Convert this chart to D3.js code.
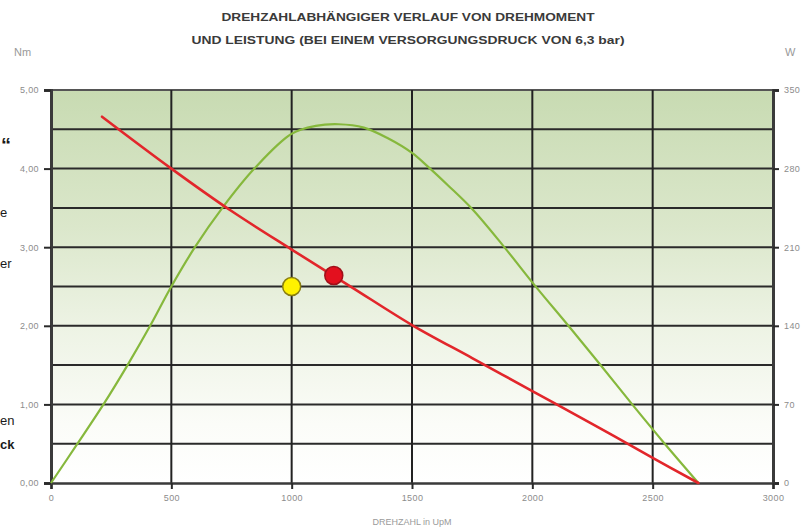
<!DOCTYPE html>
<html><head><meta charset="utf-8">
<script src="https://cdn.jsdelivr.net/npm/d3@7"></script>
<style>body{margin:0;background:#fff}svg{display:block}</style>
</head><body><svg id="c" width="805" height="530"></svg>
<script>
const titleLines = ["DREHZAHLABHÄNGIGER VERLAUF VON DREHMOMENT", "UND LEISTUNG (BEI EINEM VERSORGUNGSDRUCK VON 6,3 bar)"];
const rpmTicks = [0, 500, 1000, 1500, 2000, 2500, 3000];
const torqueTicks = [0, 1, 2, 3, 4, 5];
const torqueGrid = [0.5, 1, 1.5, 2, 2.5, 3, 3.5, 4, 4.5, 5];
const powerTicks = [0, 70, 140, 210, 280, 350];
const torqueRpm = [212, 500, 750, 1000, 1250, 1500, 1750, 2000, 2250, 2500, 2690];
const torqueNm  = [4.66, 4.0, 3.46, 2.97, 2.49, 2.01, 1.59, 1.17, 0.75, 0.32, 0];
const powerRpm = [0, 110, 218, 318, 412, 500, 598, 712, 845, 1000, 1100, 1195, 1300, 1400, 1500, 1565, 1650, 1750, 1880, 2010, 2150, 2280, 2415, 2550, 2690];
const powerW   = [0, 35, 70, 105, 140, 175, 210, 245, 280, 311, 318, 319.5, 316.5, 307, 294, 282, 265, 244, 211, 176, 140, 106, 70, 35, 0];
const markerRpm = [1000, 1175];
const markerNm = [2.5, 2.64];
const markerFill = ["#fff200", "#e3101e"];
const markerStroke = ["#8a7f10", "#a0101a"];
const sideFragments = [
  {text: "“", x: 1, y: 152, size: 20, bold: true},
  {text: "e", x: 0, y: 217, size: 13, bold: false},
  {text: "er", x: 0, y: 268, size: 13, bold: false},
  {text: "en", x: 0, y: 425, size: 13, bold: false},
  {text: "ck", x: 0, y: 449, size: 13, bold: true}
];

const svg = d3.select("#c");
const x = d3.scaleLinear([0, 3000], [51, 773]);
const yL = d3.scaleLinear([0, 5], [483, 90]);
const yR = d3.scaleLinear([0, 350], [483, 90]);
const font = "'Liberation Sans', Arial, sans-serif";

const defs = svg.append("defs");
const g = defs.append("linearGradient").attr("id", "bg").attr("x1", 0).attr("y1", 0).attr("x2", 0).attr("y2", 1);
[[0, "#c8dbb2"], [0.35, "#dbe7cb"], [0.6, "#edf3e4"], [0.85, "#fbfcf8"], [1, "#ffffff"]].forEach(s =>
  g.append("stop").attr("offset", s[0]).attr("stop-color", s[1]));

// plot background
svg.append("rect").attr("x", x(0)).attr("y", yL(5)).attr("width", x(3000) - x(0)).attr("height", yL(0) - yL(5)).attr("fill", "url(#bg)");

// horizontal grid
svg.append("g").selectAll("line").data(torqueGrid).join("line")
  .attr("x1", x(0)).attr("x2", x(3000)).attr("y1", d => yL(d)).attr("y2", d => yL(d))
  .attr("stroke", d => d === 5 ? "#555" : "#2a2a2a").attr("stroke-width", 2);
// vertical grid
svg.append("g").selectAll("line").data(rpmTicks.filter(d => d > 0 && d < 3000)).join("line")
  .attr("x1", d => x(d)).attr("x2", d => x(d)).attr("y1", yL(5)).attr("y2", yL(0))
  .attr("stroke", "#222").attr("stroke-width", 2);

// axes
const axL = d3.axisLeft(yL).tickValues(torqueTicks).tickSize(7).tickPadding(5)
  .tickFormat(d => d3.format(".2f")(d).replace(".", ","));
const axR = d3.axisRight(yR).tickValues(powerTicks).tickSize(6).tickPadding(5).tickFormat(d3.format("d"));
const axB = d3.axisBottom(x).tickValues(rpmTicks).tickSize(6).tickPadding(6).tickFormat(d3.format("d"));
function styleAxis(sel, w) {
  sel.select(".domain").attr("stroke", "#3a3a3a").attr("stroke-width", w);
  sel.selectAll(".tick line").attr("stroke", "#2a2a2a").attr("stroke-width", 2);
  sel.selectAll(".tick text").attr("fill", "#8c8c8c").style("font-family", font).style("font-size", "9px").style("letter-spacing", "0.4px");
}
svg.append("g").attr("transform", `translate(${x(3000)},0)`).call(axR).call(s => styleAxis(s, 3));
svg.append("g").attr("transform", `translate(0,${yL(0)})`).call(axB).call(s => styleAxis(s, 2.5));
svg.append("g").attr("transform", `translate(${x(0)},0)`).call(axL).call(s => styleAxis(s, 3));

// curves
const lineP = d3.line().x(d => x(d[0])).y(d => yR(d[1])).curve(d3.curveCatmullRom.alpha(0.5));
svg.append("path").attr("d", lineP(powerRpm.map((r, i) => [r, powerW[i]])))
  .attr("fill", "none").attr("stroke", "#86b83c").attr("stroke-width", 2.2);
const lineT = d3.line().x(d => x(d[0])).y(d => yL(d[1])).curve(d3.curveCatmullRom.alpha(0.5));
svg.append("path").attr("d", lineT(torqueRpm.map((r, i) => [r, torqueNm[i]])))
  .attr("fill", "none").attr("stroke", "#e2262b").attr("stroke-width", 2.6).attr("stroke-linecap", "round");

// markers
svg.append("g").selectAll("circle").data(markerRpm).join("circle")
  .attr("cx", d => x(d)).attr("cy", (d, i) => yL(markerNm[i])).attr("r", 9)
  .attr("fill", (d, i) => markerFill[i]).attr("stroke", (d, i) => markerStroke[i]).attr("stroke-width", 1.5);

// title
svg.append("g").selectAll("text").data(titleLines).join("text")
  .attr("x", 408).attr("y", (d, i) => 21 + i * 23).attr("text-anchor", "middle")
  .attr("textLength", (d, i) => i === 0 ? 373 : 433).attr("lengthAdjust", "spacingAndGlyphs")
  .style("font-family", font).style("font-weight", "bold").style("font-size", "10.5px").attr("fill", "#3a3a3a")
  .text(d => d);

// units
svg.append("text").attr("x", 14).attr("y", 56).text("Nm").style("font-family", font).style("font-size", "11px").attr("fill", "#999");
svg.append("text").attr("x", 785).attr("y", 56).text("W").style("font-family", font).style("font-size", "11px").attr("fill", "#999");
svg.append("text").attr("x", 412).attr("y", 525).attr("text-anchor", "middle").text("DREHZAHL in UpM")
  .style("font-family", font).style("font-size", "9px").attr("fill", "#9a9a9a");

// visible fragments of neighbouring page text at the left edge
svg.append("g").selectAll("text").data(sideFragments).join("text")
  .attr("x", d => d.x).attr("y", d => d.y)
  .style("font-family", font).style("font-size", d => d.size + "px").style("font-weight", d => d.bold ? "bold" : "normal")
  .attr("fill", "#1a1a1a").text(d => d.text);
</script></body></html>
